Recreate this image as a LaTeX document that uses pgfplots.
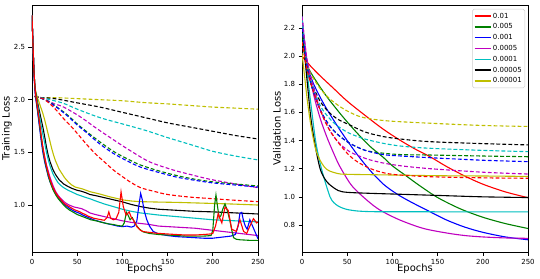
\documentclass[border=0pt]{standalone}
\usepackage{fontspec}
\setmainfont{DejaVu Sans}
\usepackage{pgfplots}
\pgfplotsset{compat=1.18}
\definecolor{mr}{rgb}{1,0,0}
\definecolor{mg}{rgb}{0,0.5,0}
\definecolor{mb}{rgb}{0,0,1}
\definecolor{mm}{rgb}{0.75,0,0.75}
\definecolor{mc}{rgb}{0,0.75,0.75}
\definecolor{mk}{rgb}{0,0,0}
\definecolor{my}{rgb}{0.75,0.75,0}
\definecolor{lgd}{rgb}{0.8,0.8,0.8}
\pgfplotsset{
  base/.style={
    scale only axis, width=226bp, height=247bp,
    xmin=0, xmax=250, xtick={0,50,100,150,200,250},
    tick align=outside, major tick length=3.5bp,
    tick style={black, line width=0.6bp},
    axis line style={line width=0.7bp},
    xtick pos=left, ytick pos=left,
    ticklabel style={font=\fontsize{7}{8}\selectfont},
    label style={font=\fontsize{7}{8}\selectfont},
    /pgf/number format/assume math mode=true,
    yticklabel style={/pgf/number format/fixed, /pgf/number format/fixed zerofill, /pgf/number format/precision=1},
    every axis plot/.append style={line width=1.1bp},
    xlabel=Epochs,
    every axis x label/.style={at={(axis description cs:0.5,-0.069)}, anchor=center},
    every axis y label/.style={at={(axis description cs:-0.111,0.5)}, rotate=90, anchor=center},
  },
  dsh/.style={dash pattern=on 3.8bp off 2.2bp, smooth},
}
\begin{document}
\begin{tikzpicture}
\path[use as bounding box] (-32bp,-27bp) rectangle (508bp,252bp);
% ---------------- Training loss ----------------
\begin{axis}[base, at={(0bp,0bp)}, ymin=0.554, ymax=2.899, ytick={1.0,1.5,2.0,2.5}, ylabel={Training Loss}]
% dashed
\addplot[my, dsh] coordinates {(3,2.03)(10,2.02)(25,2.02)(50,2.01)(75,2.00)(100,1.99)(125,1.972)(150,1.96)(175,1.945)(200,1.93)(225,1.92)(250,1.91)};
\addplot[mk, dsh] coordinates {(3,2.03)(10,2.02)(25,2.01)(50,1.97)(75,1.93)(100,1.88)(125,1.83)(150,1.78)(175,1.74)(200,1.70)(225,1.66)(250,1.627)};
\addplot[mc, dsh] coordinates {(3,2.03)(10,2.02)(20,2.00)(35,1.965)(50,1.91)(75,1.83)(100,1.77)(125,1.71)(150,1.64)(175,1.575)(200,1.51)(225,1.465)(250,1.428)};
\addplot[mm, dsh] coordinates {(3,2.03)(8,2.02)(15,2.00)(25,1.96)(35,1.93)(53,1.84)(71,1.73)(90,1.62)(108,1.52)(130,1.41)(156,1.333)(175,1.29)(197,1.244)(225,1.20)(250,1.165)};
\addplot[mg, dsh] coordinates {(3,2.03)(8,2.02)(14,2.00)(20,1.975)(30,1.915)(40,1.85)(50,1.77)(60,1.70)(75,1.60)(90,1.51)(105,1.44)(120,1.38)(140,1.325)(160,1.28)(180,1.245)(200,1.22)(225,1.20)(250,1.18)};
\addplot[mb, dsh] coordinates {(3,2.03)(8,2.02)(14,2.00)(20,1.97)(30,1.91)(40,1.84)(50,1.76)(60,1.69)(75,1.58)(90,1.49)(105,1.42)(120,1.36)(140,1.31)(160,1.265)(180,1.235)(200,1.21)(225,1.19)(250,1.17)};
\addplot[mr, dsh] coordinates {(3,2.03)(8,2.02)(12.5,2.01)(20,1.96)(27,1.90)(35,1.82)(44,1.74)(53,1.65)(62,1.56)(71.5,1.475)(80,1.41)(90,1.333)(100,1.27)(108,1.222)(120,1.165)(135,1.13)(150,1.10)(175,1.075)(200,1.06)(225,1.045)(250,1.032)};
% solid
\addplot[my] coordinates {(0,2.80)(1,2.55)(2,2.30)(3,2.15)(4,2.08)(6,2.02)(8,1.97)(10,1.92)(12,1.87)(14,1.81)(16,1.74)(18,1.67)(20,1.60)(22,1.53)(24,1.47)(26,1.42)(28,1.38)(30,1.34)(33,1.30)(36,1.26)(40,1.22)(44,1.19)(48,1.17)(55,1.155)(60,1.14)(64,1.127)(70,1.115)(77,1.10)(85,1.08)(95,1.06)(101,1.048)(110,1.038)(120,1.032)(140,1.028)(160,1.025)(180,1.02)(200,1.015)(220,1.01)(235,1.005)(250,1.0)};
\addplot[mk] coordinates {(0,2.80)(1,2.55)(2,2.30)(3,2.15)(4,2.07)(6,1.98)(8,1.90)(10,1.82)(12,1.74)(14,1.65)(16,1.55)(18,1.47)(20,1.41)(23,1.34)(26,1.29)(30,1.24)(35,1.20)(40,1.175)(45,1.155)(50,1.14)(55,1.13)(60,1.115)(64,1.10)(70,1.09)(80,1.07)(90,1.05)(100,1.03)(110,1.005)(120,0.985)(130,0.97)(140,0.96)(160,0.95)(180,0.94)(200,0.935)(225,0.925)(250,0.915)};
\addplot[mc] coordinates {(0,2.80)(1,2.55)(2,2.30)(3,2.15)(4,2.06)(6,1.96)(8,1.86)(10,1.76)(12,1.67)(14,1.59)(16,1.50)(18,1.43)(20,1.37)(23,1.30)(26,1.25)(29,1.21)(32,1.185)(35,1.165)(40,1.14)(45,1.12)(50,1.10)(55,1.085)(60,1.07)(64,1.06)(70,1.04)(80,1.01)(90,0.985)(100,0.96)(110,0.94)(120,0.925)(130,0.915)(140,0.905)(160,0.89)(180,0.875)(200,0.86)(225,0.85)(250,0.84)};
\addplot[mm] coordinates {(0,2.80)(1,2.55)(2,2.30)(3,2.13)(4,2.03)(6,1.91)(8,1.78)(10,1.66)(12,1.55)(14,1.46)(16,1.38)(18,1.32)(20,1.26)(23,1.19)(26,1.13)(29,1.09)(32,1.06)(35,1.035)(38,1.015)(41,1.00)(44,0.99)(47,0.98)(50,0.975)(55,0.965)(60,0.945)(64,0.925)(70,0.91)(75,0.90)(80,0.89)(85,0.88)(90,0.87)(95,0.86)(100,0.85)(110,0.835)(120,0.825)(130,0.815)(140,0.80)(150,0.795)(160,0.79)(170,0.785)(180,0.78)(190,0.77)(200,0.76)(210,0.75)(220,0.74)(230,0.73)(240,0.72)(250,0.71)};
\addplot[mb] coordinates {(0,2.80)(1,2.55)(2,2.30)(3,2.12)(4,2.02)(6,1.90)(8,1.76)(10,1.62)(12,1.50)(14,1.41)(16,1.34)(18,1.27)(20,1.22)(23,1.16)(26,1.11)(29,1.07)(32,1.04)(35,1.01)(38,0.99)(41,0.97)(44,0.955)(47,0.94)(50,0.93)(53,0.92)(56,0.905)(60,0.89)(64,0.875)(68,0.86)(72,0.85)(76,0.84)(80,0.83)(85,0.82)(90,0.81)(95,0.80)(100,0.795)(105,0.80)(110,0.79)(113,0.80)(116,0.85)(118,0.98)(120.2,1.11)(122,1.05)(124,0.95)(127,0.86)(130,0.80)(134,0.75)(140,0.725)(150,0.71)(160,0.70)(170,0.695)(180,0.69)(190,0.685)(200,0.685)(210,0.695)(215,0.70)(220,0.705)(225,0.72)(228,0.80)(230,0.92)(232,0.93)(234,0.85)(236,0.80)(238,0.77)(241,0.86)(243,0.82)(246,0.76)(248,0.72)(250,0.68)};
\addplot[mg] coordinates {(0,2.80)(1,2.55)(2,2.30)(3,2.15)(4,2.05)(6,1.92)(8,1.79)(10,1.65)(12,1.53)(14,1.43)(16,1.35)(18,1.28)(20,1.22)(23,1.15)(26,1.10)(29,1.06)(32,1.03)(35,1.00)(38,0.975)(41,0.955)(44,0.94)(47,0.925)(50,0.91)(53,0.90)(56,0.89)(59,0.88)(62,0.87)(65,0.86)(68,0.855)(71,0.85)(75,0.84)(80,0.83)(85,0.82)(90,0.815)(95,0.805)(100,0.80)(102,0.83)(104.5,0.93)(106.5,0.90)(108.5,0.86)(111,0.88)(113,0.845)(116,0.80)(119,0.77)(123,0.745)(130,0.73)(140,0.72)(150,0.715)(160,0.71)(170,0.705)(180,0.705)(190,0.705)(198,0.71)(200,0.76)(202,1.00)(203.5,1.095)(205,1.00)(207,0.88)(209,0.90)(211,0.96)(213.5,1.01)(216,0.95)(219,0.85)(221,0.76)(223,0.69)(226,0.675)(230,0.67)(240,0.665)(250,0.665)};
\addplot[mr] coordinates {(0,2.80)(1,2.55)(2,2.30)(3,2.15)(4,2.05)(6,1.93)(8,1.81)(10,1.67)(12,1.55)(14,1.45)(16,1.37)(18,1.30)(20,1.24)(23,1.17)(26,1.12)(29,1.08)(32,1.05)(35,1.02)(38,1.00)(41,0.985)(44,0.97)(47,0.955)(50,0.945)(53,0.935)(56,0.92)(59,0.91)(62,0.895)(65,0.885)(68,0.875)(71,0.87)(74,0.865)(77,0.86)(80,0.855)(83,0.88)(85,0.935)(87,0.875)(90,0.86)(93,0.87)(96,0.93)(98.5,1.125)(101,0.985)(104,0.905)(107.5,0.935)(110,0.88)(112,0.86)(116,0.795)(120,0.76)(123,0.748)(130,0.74)(138,0.732)(150,0.725)(160,0.72)(170,0.715)(180,0.715)(190,0.72)(197,0.725)(200,0.73)(203,0.80)(206,0.92)(208,0.87)(210,0.83)(213.5,0.98)(217,0.95)(221,0.77)(226,0.75)(230,0.86)(234,0.75)(237.5,0.73)(241,0.80)(245,0.87)(248.5,0.83)(250,0.84)};
\end{axis}
% ---------------- Validation loss ----------------
\begin{axis}[base, at={(270bp,0bp)}, ymin=0.608, ymax=2.363, ytick={0.8,1.0,1.2,1.4,1.6,1.8,2.0,2.2}, ylabel={Validation Loss},
  legend style={at={(1,1)}, anchor=north east, xshift=-3bp, yshift=-4bp, draw=lgd, line width=0.5bp, rounded corners=1.5bp,
    font=\fontsize{7}{8}\selectfont, inner xsep=1.5bp, inner ysep=1.5bp, row sep=0bp,
    nodes={inner ysep=2.1bp, inner xsep=1.5bp, text height=5.2bp, text depth=1.4bp}},
  legend cell align=left,
  legend image code/.code={\draw[#1, line width=1.4bp] (0bp,0bp) -- (16bp,0bp);}]
\addplot[mr, smooth] coordinates {(0,2.0)(3,1.975)(6,1.955)(10,1.925)(20,1.86)(35,1.77)(50,1.68)(71.5,1.57)(90,1.48)(108,1.404)(125,1.34)(141.6,1.285)(160,1.215)(180,1.148)(200,1.09)(225,1.035)(250,0.994)};
\addplot[mg, smooth] coordinates {(0,2.17)(3,2.0)(6,1.93)(10,1.88)(20,1.78)(30,1.69)(45,1.57)(60,1.46)(75,1.36)(90,1.28)(100,1.22)(115,1.15)(130,1.08)(150,0.995)(175,0.915)(200,0.855)(225,0.81)(250,0.775)};
\addplot[mb, smooth] coordinates {(0,2.28)(3,2.05)(6,1.93)(12.5,1.807)(25,1.65)(42,1.475)(60,1.31)(75,1.19)(90,1.09)(105,1.02)(120,0.965)(141.6,0.894)(160,0.835)(180,0.785)(200,0.748)(225,0.715)(250,0.695)};
\addplot[mm, smooth] coordinates {(0,2.28)(3,2.10)(6,1.95)(12.5,1.736)(20,1.56)(27.3,1.428)(35,1.31)(42,1.214)(55,1.08)(71.5,0.978)(86,0.907)(108,0.836)(134,0.776)(160,0.743)(180,0.725)(200,0.715)(225,0.708)(250,0.705)};
\addplot[mc, smooth] coordinates {(0,2.28)(3,2.05)(5,1.92)(10,1.65)(15,1.40)(20,1.24)(25,1.12)(31,1.0)(35,0.96)(40,0.935)(45.7,0.918)(50,0.91)(60,0.90)(75,0.895)(100,0.894)(250,0.893)};
\addplot[mk, smooth] coordinates {(0,2.2)(3,2.0)(6,1.80)(10,1.55)(15,1.35)(20,1.20)(25,1.13)(30,1.09)(40,1.045)(50,1.032)(75,1.025)(100,1.02)(150,1.01)(200,1.0)(250,0.995)};
\addplot[my, smooth] coordinates {(0,2.02)(3,1.85)(6,1.68)(10,1.50)(15,1.34)(20,1.26)(25,1.21)(30,1.185)(40,1.165)(50,1.16)(100,1.155)(150,1.15)(200,1.148)(250,1.145)};
\legend{0.01,0.005,0.001,0.0005,0.0001,0.00005,0.00001}
\addplot[my, dsh, forget plot] coordinates {(0,2.1)(5,1.95)(10,1.87)(20,1.77)(30,1.70)(40,1.65)(50,1.61)(64,1.57)(80,1.55)(100,1.537)(141.6,1.523)(200,1.507)(250,1.50)};
\addplot[mk, dsh, forget plot] coordinates {(0,2.2)(5,1.95)(10,1.82)(20,1.68)(30,1.60)(40,1.55)(53,1.51)(70,1.46)(90,1.428)(110,1.41)(141.6,1.392)(200,1.378)(250,1.369)};
\addplot[mc, dsh, forget plot] coordinates {(0,2.25)(5,1.96)(10,1.82)(20,1.65)(30,1.56)(40,1.50)(53,1.45)(70,1.41)(90,1.38)(110,1.36)(141.6,1.345)(200,1.33)(250,1.321)};
\addplot[mg, dsh, forget plot] coordinates {(0,2.2)(5,1.95)(10,1.80)(20,1.62)(30,1.51)(40,1.44)(53,1.38)(70,1.33)(90,1.31)(110,1.30)(141.6,1.297)(200,1.29)(250,1.285)};
\addplot[mb, dsh, forget plot] coordinates {(0,2.2)(5,1.95)(10,1.80)(20,1.62)(30,1.51)(40,1.44)(53,1.38)(70,1.33)(90,1.30)(110,1.29)(141.6,1.278)(200,1.26)(250,1.25)};
\addplot[mm, dsh, forget plot] coordinates {(0,2.28)(5,2.0)(10,1.85)(20,1.62)(30,1.48)(40,1.39)(53,1.32)(71.5,1.27)(90,1.24)(110,1.22)(141.6,1.20)(200,1.175)(250,1.162)};
\addplot[mr, dsh, forget plot] coordinates {(0,2.1)(5,1.92)(10,1.80)(20,1.62)(30,1.48)(42,1.37)(53,1.29)(64,1.238)(80,1.19)(100,1.16)(141.6,1.143)(200,1.135)(250,1.132)};
\end{axis}
\end{tikzpicture}
\end{document}
